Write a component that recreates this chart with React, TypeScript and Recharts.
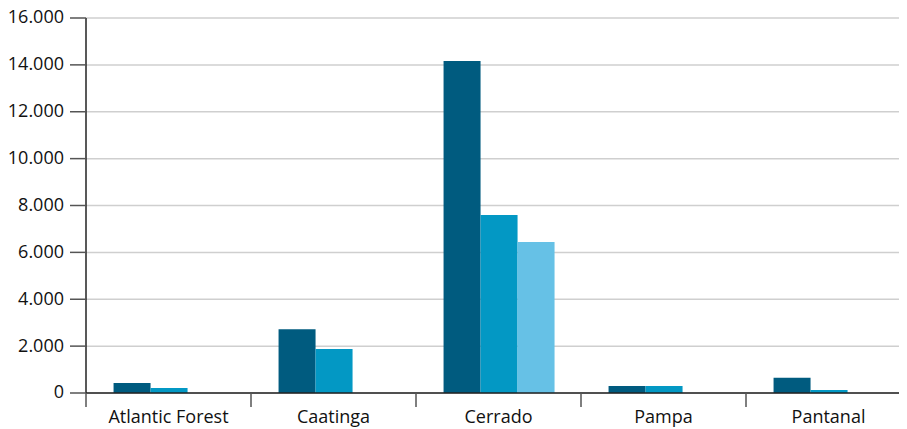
import React from "react";
import { BarChart, Bar, XAxis, YAxis, CartesianGrid } from "recharts";

const categories = ["Atlantic Forest", "Caatinga", "Cerrado", "Pampa", "Pantanal"];
const seriesA = [430, 2720, 14170, 300, 650];
const seriesB = [215, 1880, 7600, 300, 130];
const seriesC = [0, 0, 6440, 0, 0];
const yTicks = [0, 2000, 4000, 6000, 8000, 10000, 12000, 14000, 16000];

const data = categories.map((c, i) => ({ name: c, a: seriesA[i], b: seriesB[i], c: seriesC[i] }));

const CHART_W = 903;
const CHART_H = 421;
const Y_W = 78;
const BAND = (CHART_W - Y_W) / categories.length;
const FONT = "'Open Sans', sans-serif";
const TEXT = "#111";

const fmt = (v: number) => String(v).replace(/\B(?=(\d{3})+(?!\d))/g, ".");

const XTick = (props: any) => {
  const { x, y, payload } = props;
  const bx = x - BAND / 2;
  return (
    <g>
      <line x1={bx} y1={y - 17} x2={bx} y2={y - 3} stroke="#555" strokeWidth={1.5} />
      <text x={x} y={y} dy="0.71em" textAnchor="middle" fill={TEXT} fontSize={18} fontFamily={FONT}>
        {payload.value}
      </text>
    </g>
  );
};

const YTick = (props: any) => {
  const { x, y, payload } = props;
  return (
    <text x={x} y={y} dy="0.3em" textAnchor="end" fill={TEXT} fontSize={18} fontFamily={FONT}>
      {fmt(payload.value)}
    </text>
  );
};

export default function App() {
  return (
    <div style={{ width: 899, overflow: "hidden" }}>
      <BarChart
        width={CHART_W}
        height={CHART_H}
        data={data}
        margin={{ top: 10, right: 0, bottom: 0, left: 0 }}
        barCategoryGap="16.7%"
        barGap={0}
        style={{ overflow: "visible" }}
      >
        <CartesianGrid vertical={false} stroke="#cfcfcf" strokeWidth={1.5} />
        <XAxis
          dataKey="name"
          height={36}
          tickSize={14}
          tickMargin={3}
          tickLine={false}
          axisLine={{ stroke: "#222", strokeWidth: 1.5 }}
          tick={<XTick />}
          interval={0}
        />
        <YAxis
          width={Y_W}
          domain={[0, 16000]}
          ticks={yTicks}
          interval={0}
          tickSize={16}
          tickMargin={6}
          axisLine={{ stroke: "#222", strokeWidth: 1.5 }}
          tickLine={{ stroke: "#555", strokeWidth: 1.5 }}
          tick={<YTick />}
        />
        <Bar dataKey="a" fill="#005b7f" isAnimationActive={false} />
        <Bar dataKey="b" fill="#0398c4" isAnimationActive={false} />
        <Bar dataKey="c" fill="#66c1e6" isAnimationActive={false} />
      </BarChart>
    </div>
  );
}
